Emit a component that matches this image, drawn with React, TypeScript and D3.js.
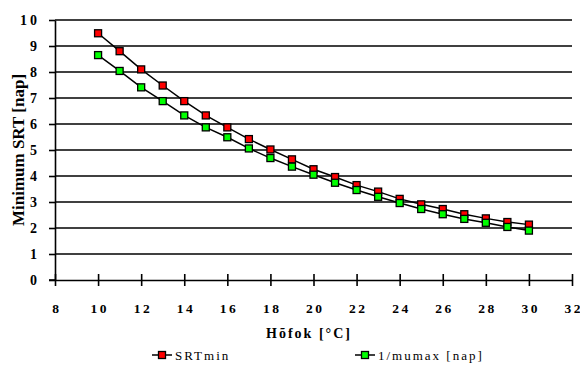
import React, { useRef, useEffect } from 'react';
import * as d3 from 'd3';

const temps = [10, 11, 12, 13, 14, 15, 16, 17, 18, 19, 20, 21, 22, 23, 24, 25, 26, 27, 28, 29, 30];
const srtMin = [9.49, 8.8, 8.1, 7.48, 6.88, 6.33, 5.87, 5.42, 5.02, 4.64, 4.26, 3.96, 3.65, 3.4, 3.12, 2.91, 2.73, 2.53, 2.37, 2.23, 2.13];
const invMumax = [8.65, 8.04, 7.41, 6.88, 6.33, 5.87, 5.49, 5.06, 4.69, 4.36, 4.05, 3.74, 3.46, 3.2, 2.96, 2.73, 2.53, 2.35, 2.2, 2.04, 1.9];
const xTicks = [8, 10, 12, 14, 16, 18, 20, 22, 24, 26, 28, 30, 32];
const yTicks = [0, 1, 2, 3, 4, 5, 6, 7, 8, 9, 10];

const seriesList = [
  { name: 'SRTmin', values: srtMin, color: '#ff0000' },
  { name: '1/mumax [nap]', values: invMumax, color: '#00ff00' }
];

const FONT = "'Liberation Serif', 'DejaVu Serif', serif";

const App = () => {
  const ref = useRef<SVGSVGElement>(null);

  useEffect(() => {
    const svg = d3.select(ref.current);
    svg.selectAll('*').remove();

    const x = d3.scaleLinear().domain([8, 32]).range([55, 572]);
    const y = d3.scaleLinear().domain([0, 10]).range([280, 20]);

    // gridlines
    svg.append('g')
      .selectAll('line')
      .data(yTicks.filter(d => d > 0))
      .join('line')
      .attr('x1', x(8)).attr('x2', x(32))
      .attr('y1', d => y(d)).attr('y2', d => y(d))
      .attr('stroke', '#000').attr('stroke-width', 1.6);

    // spread digits apart without trailing space
    const spaced = (sel: any, gap: number) => {
      sel.each(function (this: SVGTextElement) {
        const t = d3.select(this);
        const chars = t.text().split('');
        t.text(null);
        chars.forEach((c, i) => {
          t.append('tspan').attr('dx', i === 0 ? 0 : gap).text(c);
        });
      });
    };

    // y axis
    const yAxis = svg.append('g').attr('transform', `translate(${x(8)},0)`)
      .call(d3.axisLeft(y).tickValues(yTicks).tickSize(6).tickSizeOuter(0).tickPadding(12));
    yAxis.select('.domain').attr('stroke-width', 1.6);
    yAxis.selectAll('.tick line').attr('stroke-width', 1.6);
    yAxis.selectAll('.tick text')
      .style('font-family', FONT).style('font-size', '14px').style('font-weight', 'bold')
      .attr('fill', '#000');
    spaced(yAxis.selectAll('.tick text'), 3);

    // x axis with crossing ticks
    const xAxis = svg.append('g').attr('transform', `translate(0,${y(0)})`)
      .call(d3.axisBottom(x).tickValues(xTicks).tickSize(6).tickSizeOuter(0).tickPadding(17));
    xAxis.select('.domain').attr('stroke-width', 1.6);
    xAxis.selectAll('.tick line').attr('y1', -6).attr('stroke-width', 1.6);
    xAxis.selectAll('.tick text')
      .style('font-family', FONT).style('font-size', '13.5px').style('font-weight', 'bold')
      .attr('fill', '#000');
    spaced(xAxis.selectAll('.tick text'), 2.5);
    svg.append('line')
      .attr('x1', x(8) - 6).attr('x2', x(8))
      .attr('y1', y(0)).attr('y2', y(0))
      .attr('stroke', '#000').attr('stroke-width', 1.6);

    // series
    const line = d3.line<number>()
      .x((_, i) => x(temps[i]))
      .y(d => y(d));

    const ms = 7;
    seriesList.forEach(s => {
      svg.append('path')
        .attr('d', line(s.values))
        .attr('fill', 'none').attr('stroke', '#000').attr('stroke-width', 1.5);
      svg.append('g')
        .selectAll('rect')
        .data(s.values)
        .join('rect')
        .attr('x', (_, i) => x(temps[i]) - ms / 2)
        .attr('y', d => y(d) - ms / 2)
        .attr('width', ms).attr('height', ms)
        .attr('fill', s.color).attr('stroke', '#000').attr('stroke-width', 1.3);
    });

    // axis titles
    svg.append('text')
      .attr('transform', `translate(24,${(y(0) + y(10)) / 2}) rotate(-90)`)
      .attr('text-anchor', 'middle')
      .style('font-family', FONT).style('font-size', '17px').style('font-weight', 'bold')
      .attr('fill', '#000')
      .text('Minimum SRT [nap]');

    svg.append('text')
      .attr('x', 309).attr('y', 338)
      .attr('text-anchor', 'middle')
      .style('font-family', FONT).style('font-size', '14px').style('font-weight', 'bold')
      .style('letter-spacing', '2px')
      .attr('fill', '#000')
      .text('Hõfok [°C]');

    // legend
    const legendX = [152, 355];
    seriesList.forEach((s, i) => {
      const g = svg.append('g').attr('transform', `translate(${legendX[i]},355)`);
      g.append('line').attr('x1', 0).attr('x2', 20).attr('y1', 0).attr('y2', 0)
        .attr('stroke', '#000').attr('stroke-width', 1.5);
      g.append('rect').attr('x', 10 - 3.5).attr('y', -3.5).attr('width', 7).attr('height', 7)
        .attr('fill', s.color).attr('stroke', '#000').attr('stroke-width', 1.3);
      g.append('text').attr('x', 23).attr('y', 4.5)
        .style('font-family', FONT).style('font-size', '13px')
        .style('letter-spacing', '2px').attr('fill', '#000')
        .text(s.name);
    });
  }, []);

  return (
    <svg
      ref={ref}
      width={580}
      height={365}
      style={{ position: 'absolute', left: 0, top: 0, background: '#fff' }}
    />
  );
};

export default App;
